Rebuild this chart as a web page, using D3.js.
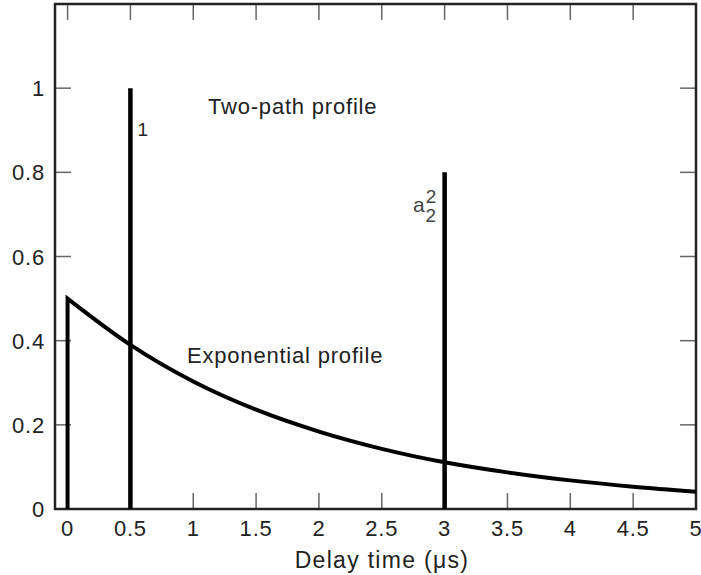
<!DOCTYPE html>
<html>
<head>
<meta charset="utf-8">
<script src="https://cdn.jsdelivr.net/npm/d3@7"></script>
<style>
  body { margin: 0; background: #fff; }
  svg text { font-family: "Liberation Sans", Arial, sans-serif; fill: #222; letter-spacing: 0.8px; }
</style>
</head>
<body>
<div id="chart"></div>
<script>
// Exponential power delay profile
const expDelay = [0, 0.5, 1, 1.5, 2, 2.5, 3, 3.5, 4, 4.5, 5];
const expPower = [0.5, 0.39, 0.303, 0.236, 0.184, 0.143, 0.111, 0.087, 0.068, 0.053, 0.041];

// Two-path profile spikes
const pathDelay = [0.5, 3];
const pathPower = [1, 0.8];

const xTicks = [0, 0.5, 1, 1.5, 2, 2.5, 3, 3.5, 4, 4.5, 5];
const yTicks = [0, 0.2, 0.4, 0.6, 0.8, 1];

const width = 701, height = 575;
const margin = { top: 4, right: 5, bottom: 66, left: 55 };
const tickLen = 16;

const svg = d3.select('#chart').append('svg')
  .attr('width', width)
  .attr('height', height);

const x = d3.scaleLinear().domain([-0.1, 5]).range([margin.left, width - margin.right]);
const y = d3.scaleLinear().domain([0, 1.2]).range([height - margin.bottom, margin.top]);

const fmt = d => d3.format('~g')(d);

// ticks, inward on all four sides
const tickG = svg.append('g').attr('stroke', '#666').attr('stroke-width', 1.5);
xTicks.forEach(t => {
  tickG.append('line').attr('x1', x(t)).attr('x2', x(t)).attr('y1', y(0)).attr('y2', y(0) - tickLen);
  tickG.append('line').attr('x1', x(t)).attr('x2', x(t)).attr('y1', y(1.2)).attr('y2', y(1.2) + tickLen);
});
yTicks.forEach(t => {
  tickG.append('line').attr('x1', x(-0.1)).attr('x2', x(-0.1) + tickLen).attr('y1', y(t)).attr('y2', y(t));
  tickG.append('line').attr('x1', x(5)).attr('x2', x(5) - tickLen).attr('y1', y(t)).attr('y2', y(t));
});

// frame
svg.append('rect')
  .attr('x', x(-0.1)).attr('y', y(1.2))
  .attr('width', x(5) - x(-0.1)).attr('height', y(0) - y(1.2))
  .attr('fill', 'none').attr('stroke', '#222').attr('stroke-width', 2.5);

// tick labels
svg.append('g').selectAll('text').data(xTicks).join('text')
  .attr('x', d => x(d)).attr('y', y(0) + 27)
  .attr('text-anchor', 'middle')
  .style('font-size', '22px')
  .text(fmt);

svg.append('g').selectAll('text').data(yTicks).join('text')
  .attr('x', x(-0.1) - 10).attr('y', d => y(d) + 8)
  .attr('text-anchor', 'end')
  .style('font-size', '22px')
  .text(fmt);

// axis title
svg.append('text')
  .attr('x', 382).attr('y', y(0) + 59)
  .attr('text-anchor', 'middle')
  .style('font-size', '23px')
  .style('letter-spacing', '1.3px')
  .text('Delay time (μs)');

// exponential profile, with the vertical rise at zero delay
const expData = expDelay.map((d, i) => [d, expPower[i]]);
const line = d3.line().x(d => x(d[0])).y(d => y(d[1])).curve(d3.curveMonotoneX);
svg.append('path')
  .attr('d', `M${x(0)},${y(0)}` + line(expData).replace(/^M/, 'L'))
  .attr('fill', 'none')
  .attr('stroke', '#000')
  .attr('stroke-width', 4)
  .attr('stroke-linejoin', 'miter');

// two-path spikes
svg.append('g').selectAll('line').data(pathDelay).join('line')
  .attr('x1', d => x(d)).attr('x2', d => x(d))
  .attr('y1', y(0))
  .attr('y2', (d, i) => y(pathPower[i]))
  .attr('stroke', '#000')
  .attr('stroke-width', 4.5);

// annotations
svg.append('text')
  .attr('x', x(0.5) + 7).attr('y', 136)
  .style('font-size', '19px')
  .text('1');

const a2 = svg.append('text')
  .attr('x', 413).attr('y', 212)
  .style('font-size', '21px')
  .style('fill', '#444');
a2.append('tspan').text('a');
a2.append('tspan').attr('dy', 10).style('font-size', '19px').text('2');
a2.append('tspan').attr('dx', -11).attr('dy', -19).style('font-size', '19px').text('2');

svg.append('text')
  .attr('x', 208).attr('y', 114)
  .style('font-size', '22px')
  .text('Two-path profile');

svg.append('text')
  .attr('x', 187).attr('y', 363)
  .style('font-size', '22px')
  .text('Exponential profile');
</script>
</body>
</html>
